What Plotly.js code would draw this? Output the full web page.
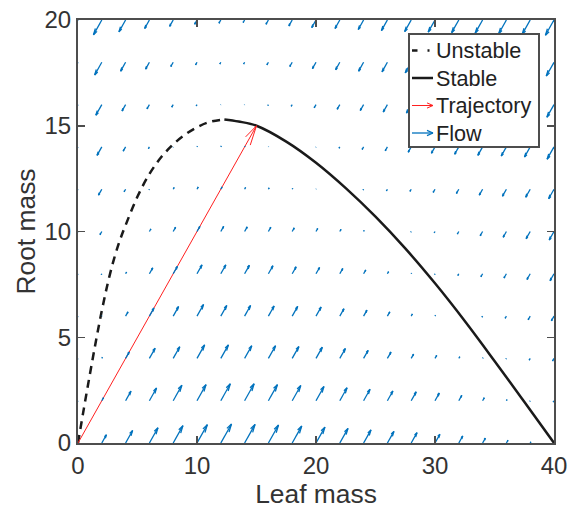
<!DOCTYPE html>
<html><head><meta charset="utf-8">
<script src="https://cdn.plot.ly/plotly-3.0.1.min.js"></script>
<style>html,body{margin:0;padding:0;background:#fff}</style>
</head><body><div id="chart" style="width:573px;height:512px"></div>
<script>
// Unstable branch (dashed)
const unstableL = [0, 0.5, 1.0, 1.5, 2.0, 2.5, 3.0, 3.5, 4.0, 5.0, 6.0, 7.0, 8.0, 9.0, 10.0, 11.0, 12.3];
const unstableR = [0, 1.65, 3.25, 4.8, 6.25, 7.55, 8.65, 9.55, 10.3, 11.65, 12.72, 13.52, 14.12, 14.58, 14.93, 15.17, 15.3];
// Stable branch (solid)
const stableL = [12.3, 13.5, 15.0, 17.5, 20.0, 22.5, 25.0, 27.5, 30.0, 32.5, 35.0, 37.5, 40.0];
const stableR = [15.3, 15.2, 15.0, 14.25, 13.25, 12.05, 10.7, 9.2, 7.55, 5.77, 3.88, 1.95, 0];
// Trajectory
const trajL = [0, 15];
const trajR = [0, 15];
// Flow grid
const gridL = [0,2,4,6,8,10,12,14,16,18,20,22,24,26,28,30,32,34,36,38,40];
const gridR = [0,2,4,6,8,10,12,14,16,18,20];
// Flow arrow component (equal in L and R) per row
const flowR0  = [0, 0.39, 0.59, 0.72, 0.82, 0.87, 0.9, 0.88, 0.85, 0.8, 0.75, 0.69, 0.62, 0.55, 0.49, 0.41, 0.33, 0.23, 0.13, 0.05, 0];
const flowR2  = [-0.1, 0.14, 0.45, 0.6, 0.73, 0.76, 0.8, 0.8, 0.76, 0.72, 0.67, 0.61, 0.54, 0.46, 0.42, 0.36, 0.25, 0.14, 0.05, -0.03, -0.06];
const flowR4  = [-0.15, 0.05, 0.3, 0.48, 0.55, 0.64, 0.64, 0.6, 0.6, 0.56, 0.53, 0.47, 0.38, 0.3, 0.2, 0.14, 0.08, 0.03, -0.03, -0.08, -0.12];
const flowR6  = [-0.2, 0.02, 0.2, 0.38, 0.45, 0.55, 0.5, 0.5, 0.48, 0.46, 0.43, 0.35, 0.28, 0.2, 0.1, 0.04, 0, -0.05, -0.1, -0.17, -0.22];
const flowR8  = [-0.25, -0.04, 0.08, 0.28, 0.35, 0.42, 0.42, 0.4, 0.38, 0.33, 0.3, 0.25, 0.18, 0.1, 0.03, -0.03, -0.08, -0.14, -0.2, -0.27, -0.33];
const flowR10 = [-0.3, -0.15, 0, 0.12, 0.2, 0.24, 0.24, 0.22, 0.2, 0.17, 0.14, 0.1, 0.05, 0, -0.03, -0.06, -0.12, -0.2, -0.27, -0.34, -0.4];
const flowR12 = [-0.35, -0.28, -0.12, -0.03, 0.08, 0.1, 0.1, 0.08, 0.06, 0.04, 0.02, 0, -0.04, -0.08, -0.1, -0.15, -0.2, -0.28, -0.33, -0.38, -0.45];
const flowR14 = [-0.45, -0.4, -0.2, -0.08, -0.02, 0.03, 0.04, 0.03, 0.02, 0, -0.02, -0.06, -0.12, -0.18, -0.25, -0.3, -0.35, -0.4, -0.43, -0.48, -0.58];
const flowR16 = [-0.55, -0.5, -0.3, -0.2, -0.12, -0.06, -0.02, -0.02, -0.04, -0.08, -0.15, -0.22, -0.28, -0.35, -0.4, -0.45, -0.48, -0.5, -0.53, -0.56, -0.6];
const flowR18 = [-0.65, -0.6, -0.42, -0.32, -0.2, -0.12, -0.08, -0.08, -0.12, -0.2, -0.3, -0.35, -0.42, -0.45, -0.5, -0.53, -0.56, -0.58, -0.6, -0.62, -0.65];
const flowR20 = [-0.75, -0.7, -0.56, -0.4, -0.3, -0.2, -0.15, -0.12, -0.2, -0.28, -0.36, -0.4, -0.45, -0.5, -0.55, -0.57, -0.6, -0.62, -0.65, -0.68, -0.72];
const flowRows = [flowR0, flowR2, flowR4, flowR6, flowR8, flowR10, flowR12, flowR14, flowR16, flowR18, flowR20];
// Legend entries
const legendNames = ['Unstable', 'Stable', 'Trajectory', 'Flow'];

function arrowPath(xs, ys, x, y, u, v, a, b) {
  xs.push(x, x + u, null);
  ys.push(y, y + v, null);
  xs.push(x + u - a * (u + b * v), x + u, x + u - a * (u - b * v), null);
  ys.push(y + v - a * (v - b * u), y + v, y + v - a * (v + b * u), null);
}

const fx = [], fy = [];
gridR.forEach((r, i) => {
  gridL.forEach((l, j) => {
    const s = flowRows[i][j];
    if (Math.abs(s) > 0.004) arrowPath(fx, fy, l, r, s, s, 0.33, 0.3);
  });
});
const tx = [], ty = [];
arrowPath(tx, ty, trajL[0], trajR[0], trajL[1] - trajL[0], trajR[1] - trajR[0], 0.048, 0.27);

const FONT = 'Liberation Sans, Arial, Helvetica, sans-serif';
const AX = '#4d4d4d';
const TXT = '#333333';
const DARK = '#1a1a1a', RED = '#ff2020', BLUE = '#0072BD';

const traces = [
  {x: unstableL, y: unstableR, mode: 'lines', name: legendNames[0], showlegend: false,
   line: {color: DARK, width: 2.5, dash: '8px,6px', shape: 'spline', smoothing: 1}},
  {x: stableL, y: stableR, mode: 'lines', name: legendNames[1], showlegend: false,
   line: {color: DARK, width: 2.5, shape: 'spline', smoothing: 1}},
  {x: tx, y: ty, mode: 'lines', name: legendNames[2], showlegend: false,
   line: {color: RED, width: 1}},
  {x: fx, y: fy, mode: 'lines', name: legendNames[3], showlegend: false,
   line: {color: BLUE, width: 1.3}}
];

// plot-area geometry (pixels) for placing the legend box
const M = {l: 78, r: 19, t: 20, b: 69};
const PW = 573 - M.l - M.r, PH = 512 - M.t - M.b;
const px = p => (p - M.l) / PW;
const py = p => (512 - M.b - p) / PH;

const shapes = [];
const annotations = [];
// legend box
shapes.push({type: 'rect', xref: 'paper', yref: 'paper', x0: px(409), x1: px(539), y0: py(147), y1: py(34),
  line: {color: AX, width: 2}, fillcolor: '#fff', layer: 'above'});
const rowsY = [50.5, 78, 105.5, 133];
const iconX0 = 412, iconX1 = 433;
function seg(x0, y0, x1, y1, color, width) {
  shapes.push({type: 'line', xref: 'paper', yref: 'paper', x0: px(x0), y0: py(y0), x1: px(x1), y1: py(y1),
    line: {color: color, width: width}, layer: 'above'});
}
// Unstable icon: "- ·"
seg(412, rowsY[0], 417.5, rowsY[0], DARK, 2.5);
seg(427.5, rowsY[0], 429.5, rowsY[0], DARK, 2.5);
// Stable icon
seg(iconX0, rowsY[1], iconX1, rowsY[1], DARK, 2.5);
// Trajectory icon
seg(iconX0, rowsY[2], iconX1, rowsY[2], RED, 1);
seg(iconX1 - 6, rowsY[2] - 2.6, iconX1, rowsY[2], RED, 1);
seg(iconX1 - 6, rowsY[2] + 2.6, iconX1, rowsY[2], RED, 1);
// Flow icon
seg(iconX0, rowsY[3], iconX1, rowsY[3], BLUE, 1.3);
seg(iconX1 - 6, rowsY[3] - 2.6, iconX1, rowsY[3], BLUE, 1.3);
seg(iconX1 - 6, rowsY[3] + 2.6, iconX1, rowsY[3], BLUE, 1.3);
legendNames.forEach((n, i) => {
  annotations.push({xref: 'paper', yref: 'paper', x: px(434), y: py(rowsY[i]), xanchor: 'left', yanchor: 'middle',
    text: n, showarrow: false, font: {family: FONT, size: 21.6, color: '#222'}});
});

const axisCommon = {
  ticks: 'inside', ticklen: 7, tickwidth: 1.5, tickcolor: AX,
  showline: true, linewidth: 2, linecolor: AX, mirror: 'ticks',
  showgrid: false, zeroline: false,
  tickfont: {family: FONT, size: 24, color: TXT}
};

const layout = {
  width: 573, height: 512,
  margin: M,
  paper_bgcolor: '#fff', plot_bgcolor: '#fff',
  font: {family: FONT, color: TXT},
  showlegend: false,
  xaxis: Object.assign({}, axisCommon, {range: [0, 40], tickvals: [0, 10, 20, 30, 40],
    title: {text: 'Leaf mass', font: {family: FONT, size: 26.4, color: TXT}, standoff: 3}}),
  yaxis: Object.assign({}, axisCommon, {range: [0, 20], tickvals: [0, 5, 10, 15, 20],
    title: {text: 'Root mass', font: {family: FONT, size: 26.4, color: TXT}, standoff: 1}}),
  shapes: shapes,
  annotations: annotations
};

Plotly.newPlot('chart', traces, layout, {displayModeBar: false, staticPlot: true});
</script></body></html>
